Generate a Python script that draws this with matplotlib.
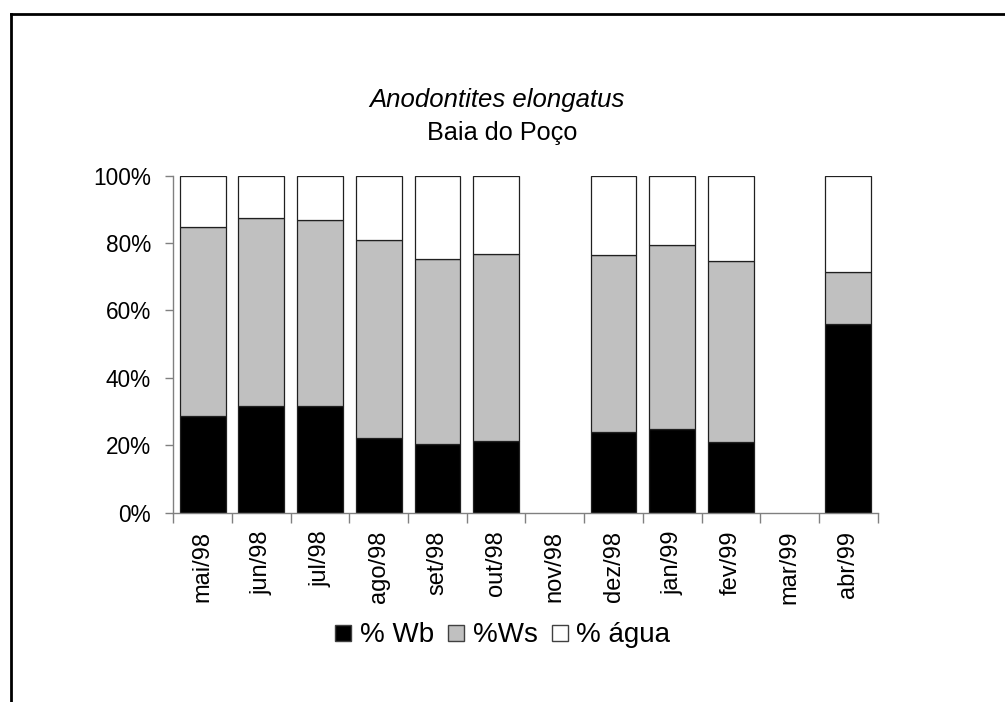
import numpy as np
import matplotlib.pyplot as plt
from matplotlib.lines import Line2D
from matplotlib.ticker import FuncFormatter, FixedLocator

plt.rcParams['font.family'] = ['Liberation Sans', 'DejaVu Sans']

# ── Data (percent of total weight) ───────────────────────────────────────────
months = ["mai/98", "jun/98", "jul/98", "ago/98", "set/98", "out/98",
          "nov/98", "dez/98", "jan/99", "fev/99", "mar/99", "abr/99"]
wb = [28.8, 31.8, 31.7, 22.3, 20.5, 21.4, np.nan, 23.8, 24.7, 20.9, np.nan, 56.0]
ws = [56.1, 55.6, 55.3, 58.5, 54.7, 55.3, np.nan, 52.6, 54.6, 53.9, np.nan, 15.4]
agua = [15.1, 12.6, 13.0, 19.2, 24.8, 23.3, np.nan, 23.6, 20.7, 25.2, np.nan, 28.6]

wb = np.array(wb)
ws = np.array(ws)
agua = np.array(agua)

fig = plt.figure(figsize=(10.05, 7.02), dpi=100, facecolor="white")
ax = fig.add_axes([0.1724, 0.2697, 0.7009, 0.48])

x = np.arange(len(months))
edge = "#202020"
bw = 0.78
ax.bar(x, wb, bw, color="black", edgecolor=edge, linewidth=0.9)
ax.bar(x, ws, bw, bottom=wb, color="#c0c0c0", edgecolor=edge, linewidth=0.9)
ax.bar(x, agua, bw, bottom=wb + ws, color="white", edgecolor=edge, linewidth=0.9)

ax.set_xlim(-0.5, len(months) - 0.5)
ax.set_ylim(0, 100)
ax.set_yticks(np.arange(0, 101, 20))
ax.yaxis.set_major_formatter(FuncFormatter(lambda v, _: f"{v:.0f}%"))

# category labels centred, tick marks on the boundaries
ax.set_xticks(x)
ax.set_xticklabels(months, rotation=90, fontsize=17)
ax.xaxis.set_minor_locator(FixedLocator(np.arange(-0.5, len(months), 1)))
ax.tick_params(axis="x", which="major", length=0, pad=13)
ax.tick_params(axis="x", which="minor", length=7, width=1, color="#808080")
ax.tick_params(axis="y", length=6, width=1, color="#808080", labelsize=16.3, pad=10)

for side in ("top", "right"):
    ax.spines[side].set_visible(False)
for side in ("left", "bottom"):
    ax.spines[side].set_color("#808080")
    ax.spines[side].set_linewidth(1)

# ── Titles ───────────────────────────────────────────────────────────────────
fig.text(0.494, 0.857, "Anodontites elongatus", ha="center", va="center",
         fontsize=18.5, style="italic")
fig.text(0.5, 0.811, "Baia do Poço", ha="center", va="center", fontsize=18.2)

# ── Legend ───────────────────────────────────────────────────────────────────
handles = [
    Line2D([], [], marker="s", linestyle="none", markersize=11,
           markerfacecolor="black", markeredgecolor="#404040", label="% Wb"),
    Line2D([], [], marker="s", linestyle="none", markersize=11,
           markerfacecolor="#c0c0c0", markeredgecolor="#404040", label="%Ws"),
    Line2D([], [], marker="s", linestyle="none", markersize=11,
           markerfacecolor="white", markeredgecolor="#404040", label="% água"),
]
fig.legend(handles=handles, loc="center", bbox_to_anchor=(0.5, 0.095),
           ncol=3, frameon=False, fontsize=20, handlelength=0.6,
           handletextpad=0.3, columnspacing=0.5)

# ── Outer frame ──────────────────────────────────────────────────────────────
fig.add_artist(Line2D([0.0105, 0.0105], [0, 0.98], transform=fig.transFigure,
                      color="black", linewidth=2))
fig.add_artist(Line2D([0.0105, 1.0], [0.98, 0.98], transform=fig.transFigure,
                      color="black", linewidth=2))

fig.savefig("out.png", dpi=100, facecolor="white")
